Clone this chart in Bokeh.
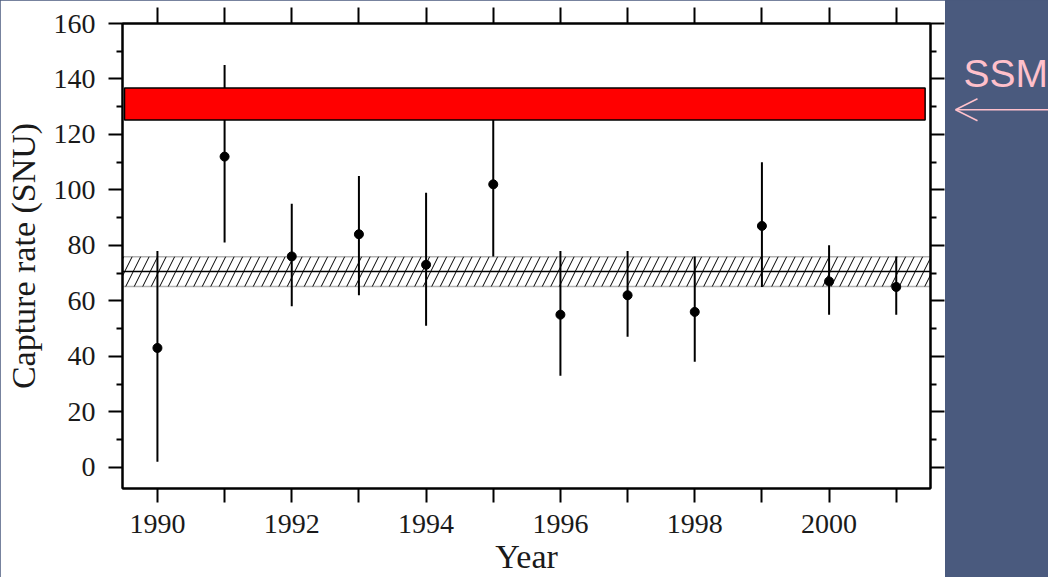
import numpy as np
from bokeh.plotting import figure
from bokeh.models import (Range1d, FixedTicker, LinearAxis, BoxAnnotation, Span,
                          Label, Arrow, OpenHead, ColumnDataSource, CustomLabelingPolicy)
from bokeh.layouts import row
from bokeh.embed import file_html
from bokeh.resources import INLINE

# ---- data ----
years = [1990, 1991, 1992, 1993, 1994, 1995, 1996, 1997, 1998, 1999, 2000, 2001]
rate = [43, 112, 76, 84, 73, 102, 55, 62, 56, 87, 67, 65]
rate_low = [2, 81, 58, 62, 51, 76, 33, 47, 38, 65, 55, 55]
rate_high = [78, 145, 95, 105, 99, 128, 78, 78, 76, 110, 80, 76]

x_label_ticks = [1990, 1992, 1994, 1996, 1998, 2000]
x_minor_ticks = [1991, 1993, 1995, 1997, 1999, 2001]
y_ticks = [0, 20, 40, 60, 80, 100, 120, 140, 160]
y_minor_ticks = [10, 30, 50, 70, 90, 110, 130, 150]

# SSM prediction band
ssm_low, ssm_high = 125.2, 136.7
ssm_start, ssm_end = 1989.51, 2001.43
# combined GALLEX/GNO band
band_low, band_mid, band_high = 65.2, 70.6, 75.9

BLUE = "#4a5a7e"
PINK = "#ffc0cb"
TXT = "#1a1a1a"
SERIF = "Liberation Serif"

src = ColumnDataSource(dict(year=years, rate=rate, low=rate_low, high=rate_high))

p = figure(width=945, height=577,
           x_range=Range1d(1989.48, 2001.51), y_range=Range1d(-7.68, 160),
           output_backend="svg", toolbar_location=None,
           min_border_left=122, min_border_right=15, min_border_top=23, min_border_bottom=89,
           background_fill_color="white", border_fill_color="white",
           outline_line_color="black", outline_line_width=2,
           x_axis_label="Year", y_axis_label="Capture rate (SNU)")
p.xgrid.visible = False
p.ygrid.visible = False

xa = p.xaxis[0]
xa.ticker = FixedTicker(ticks=x_label_ticks, minor_ticks=x_minor_ticks)
ya = p.yaxis[0]
ya.ticker = FixedTicker(ticks=y_ticks, minor_ticks=y_minor_ticks)

for ax in (xa, ya):
    ax.axis_line_width = 2
    ax.axis_line_color = "black"
    ax.major_tick_line_width = 2
    ax.minor_tick_line_width = 2
    ax.major_tick_in = 0
    ax.minor_tick_in = 0
    ax.major_tick_out = 14
    ax.major_label_text_font = SERIF
    ax.major_label_text_font_size = "28px"
    ax.major_label_text_color = TXT
    ax.axis_label_text_font = SERIF
    ax.axis_label_text_font_size = "34px"
    ax.axis_label_text_font_style = "normal"
    ax.axis_label_text_color = TXT
xa.minor_tick_out = 14
xa.major_label_standoff = 12
xa.axis_label_standoff = 2
ya.minor_tick_out = 6
ya.major_label_standoff = 13
ya.axis_label_standoff = 9

# policy that hides every tick label (for the unlabeled top/right tick axes)
no_labels = """
const keep = [];
for (const i of indices) keep.push(i);
for (const i of keep) indices.unset(i);
return indices;
"""

top = LinearAxis(ticker=FixedTicker(ticks=years, minor_ticks=[]),
                 major_tick_out=16, major_tick_in=0, minor_tick_out=0, minor_tick_in=0,
                 major_tick_line_width=2, axis_line_width=2,
                 major_label_text_font_size="0px", major_label_standoff=0,
                 major_label_policy=CustomLabelingPolicy(code=no_labels))
p.add_layout(top, "above")
right = LinearAxis(ticker=FixedTicker(ticks=y_ticks, minor_ticks=y_minor_ticks),
                   major_tick_out=14, major_tick_in=0, minor_tick_out=6, minor_tick_in=0,
                   major_tick_line_width=2, minor_tick_line_width=2, axis_line_width=2,
                   major_label_text_font_size="0px", major_label_standoff=0,
                   major_label_policy=CustomLabelingPolicy(code=no_labels))
p.add_layout(right, "right")

band = BoxAnnotation(bottom=band_low, top=band_high, fill_color=None,
                     line_color="black", line_width=1.5,
                     hatch_pattern="/", hatch_color="black", hatch_scale=17, hatch_weight=1,
                     level="underlay")
p.add_layout(band)
p.add_layout(Span(location=band_mid, dimension="width", line_color="black",
                  line_width=1.5, level="underlay"))

p.segment(x0="year", y0="low", x1="year", y1="high", source=src,
          line_color="black", line_width=2)
p.scatter("year", "rate", source=src, size=9, color="black", marker="circle")

p.quad(left=[ssm_start], right=[ssm_end], bottom=[ssm_low], top=[ssm_high],
       fill_color="red", line_color="black", line_width=1.5)

# side panel with SSM marker
s = figure(width=103, height=577, x_range=Range1d(0, 103), y_range=Range1d(577, 0),
           output_backend="svg", toolbar_location=None, min_border=0,
           x_axis_type=None, y_axis_type=None,
           background_fill_color=BLUE, border_fill_color=BLUE, outline_line_color=None)
s.grid.visible = False
s.add_layout(Label(x=18, y=62, text="SSM", text_align="left", text_baseline="alphabetic",
                   text_font="Liberation Sans", text_font_size="39px", text_color=PINK))
s.add_layout(Arrow(x_start=103, y_start=107, x_end=10, y_end=107, line_color=PINK,
                   line_width=1.5,
                   end=OpenHead(size=22, line_color=PINK, line_width=1.5)))

layout = row(p, s)
html = file_html(layout, INLINE)
html = html.replace("</head>", "<style>html,body{background-color:%s;}</style></head>" % BLUE, 1)
open("out.html", "w").write(html)
